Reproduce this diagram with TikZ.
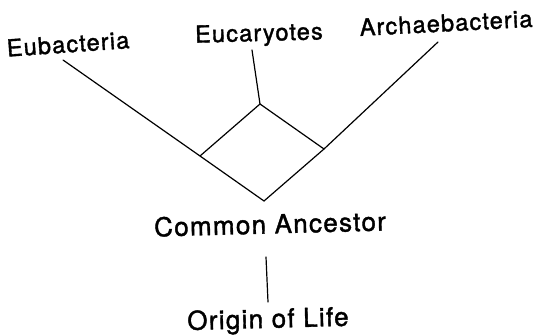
\documentclass[tikz,border=0pt]{standalone}
\usepackage{fontspec}
\setmainfont{TeX Gyre Heros}[LetterSpace=5,FakeBold=1.5]
\begin{document}
\begin{tikzpicture}[x=1pt,y=-1pt,
  lbl/.style={inner sep=0pt,font=\fontsize{23.5}{27}\selectfont},
  big/.style={inner sep=0pt,font=\fontsize{26}{30}\selectfont},
  edge/.style={line width=1.2pt,line cap=round}]
\useasboundingbox (0,0) rectangle (533,336);
% labels
\node[lbl,rotate=4]   (eub)  at (68,44)  {Eubacteria};
\node[lbl,rotate=1.5] (euc)  at (259,35) {Eucaryotes};
\node[lbl,rotate=3]   (arc)  at (446,23) {Archaebacteria};
\node[big,rotate=1.5] (ca)   at (270,224) {Common Ancestor};
\node[big,rotate=1.5] (ol)   at (268,321) {Origin of Life};
% tree vertices
\coordinate (eubT) at (63,60);
\coordinate (eucT) at (252,50);
\coordinate (arcT) at (438,42);
\coordinate (L) at (200,156);
\coordinate (T) at (260,104);
\coordinate (R) at (324,149);
\coordinate (B) at (264,201);
\coordinate (olT) at (266,257);
\coordinate (olB) at (268,302);
% connectors
\draw[edge] (eubT) -- (L) -- (B) -- (R) -- (arcT);
\draw[edge] (eucT) -- (T);
\draw[edge] (L) -- (T) -- (R);
\draw[edge] (olT) -- (olB);
\end{tikzpicture}
\end{document}
